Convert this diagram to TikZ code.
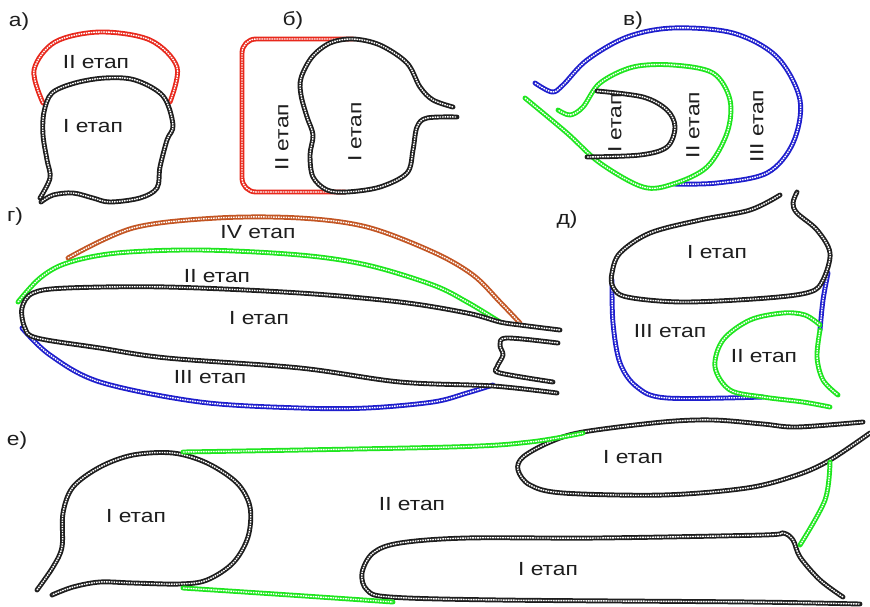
\documentclass[tikz,border=0pt]{standalone}
\usepackage{fontspec}
\setmainfont{Liberation Sans}
\definecolor{cblack}{RGB}{30,30,30}
\definecolor{cred}{RGB}{232,40,28}
\definecolor{cgreen}{RGB}{30,230,30}
\definecolor{cblue}{RGB}{30,30,205}
\definecolor{corange}{RGB}{195,85,35}
\newcommand\lbl[1]{\scalebox{1.2}[1]{#1}}
\tikzset{
  bd/.style={draw=#1, line width=4.9pt, line cap=round, line join=round,
    postaction={draw=white, line width=1.4pt, line cap=butt, dash pattern=on 1.6pt off 0.9pt}},
  txt/.style={font=\fontsize{19}{21}\selectfont, text=cblack, inner sep=0pt},
  sm/.style={smooth, tension=0.55}
}
\begin{document}
\begin{tikzpicture}[x=1pt,y=-1pt]
\useasboundingbox[fill=white] (0,0) rectangle (870,606);

% ---------- а)
\node[txt] (la) at (19,22) {\lbl{а)}};
\draw[bd=cred] plot[sm] coordinates {(43,103) (34,70) (55,42) (100,32) (150,40) (177,67) (170,102)};
\draw[bd=cblack] plot[sm] coordinates {(40,198) (50,178) (47,160) (43,135) (44,112) (52,93) (75,83) (105,78) (135,80) (163,96) (173,125) (167,140) (160,167) (157,188) (140,198) (110,202) (93,198) (73,193) (53,195) (41,202)};
\node[txt] (a2) at (96,62) {\lbl{II етап}};
\node[txt] (a1) at (93,126) {\lbl{I етап}};

% ---------- б)
\node[txt] (lb) at (293,20) {\lbl{б)}};
\draw[bd=cred, rounded corners=14pt] (353,39) -- (242,39) -- (242,192) -- (345,192);
\draw[bd=cblack] plot[sm] coordinates {(453,107) (433,100) (420,87) (407,63) (380,45) (353,39) (330,43) (312,57) (301,78) (301,95) (307,117) (313,135) (310,155) (313,177) (327,190) (347,192) (380,187) (407,173) (413,150) (417,127) (427,118) (457,117)};
\node[txt, rotate=90] (b2) at (282,137) {\lbl{II етап}};
\node[txt, rotate=90] (b1) at (355,132) {\lbl{I етап}};

% ---------- в)
\node[txt] (lv) at (633,21) {\lbl{в)}};
\draw[bd=cblue] plot[sm] coordinates {(535,83) (552,92) (563,85) (587,60) (627,37) (673,28) (733,33) (777,57) (800,100) (793,143) (767,173) (717,183) (673,184)};
\draw[bd=cgreen] plot[sm] coordinates {(525,98) (567,133) (600,163) (643,187) (673,184) (707,167) (727,133) (730,100) (713,73) (673,65) (633,67) (600,83) (583,107) (570,115) (558,110)};
\draw[bd=cblack] plot[sm] coordinates {(597,91) (643,97) (667,110) (675,127) (667,147) (640,155) (587,157)};
\node[txt, rotate=90] (v1) at (615,123) {\lbl{I етап}};
\node[txt, rotate=90] (v2) at (693,125) {\lbl{II етап}};
\node[txt, rotate=90] (v3) at (757,126) {\lbl{III етап}};

% ---------- г)
\node[txt] (lg) at (15,217) {\lbl{г)}};
\draw[bd=corange] plot[sm] coordinates {(68,258) (133,228) (217,218) (300,218) (367,227) (433,252) (473,275) (500,302) (520,323)};
\draw[bd=cgreen] plot[sm] coordinates {(18,302) (40,278) (67,263) (117,253) (200,250) (300,255) (367,265) (433,285) (467,302) (500,322)};
\draw[bd=cblue] plot[sm] coordinates {(22,328) (50,355) (100,382) (200,402) (300,408) (367,408) (433,402) (467,393) (493,385)};
\draw[bd=cblack] plot[sm] coordinates {(560,330) (520,325) (500,322) (467,313) (400,302) (300,293) (167,287) (67,288) (33,293) (22,308) (25,328) (37,338) (100,348) (167,358) (300,368) (400,382) (493,386) (557,393)};
\draw[bd=cblack] plot[sm] coordinates {(558,343) (507,338) (500,345) (503,355) (497,367) (500,373) (553,382)};
\node[txt] (g4) at (258,232) {\lbl{IV етап}};
\node[txt] (g2) at (217,276) {\lbl{II етап}};
\node[txt] (g1) at (259,318) {\lbl{I етап}};
\node[txt] (g3) at (210,377) {\lbl{III етап}};

% ---------- д)
\node[txt] (ld) at (567,220) {\lbl{д)}};
\draw[bd=cblue] plot[sm] coordinates {(612,280) (613,323) (620,363) (637,387) (667,398) (763,397)};
\draw[bd=cblue] plot[sm] coordinates {(828,273) (823,300) (820,330)};
\draw[bd=cgreen] plot[sm] coordinates {(820,325) (805,315) (783,313) (750,320) (723,340) (715,367) (730,390) (763,397) (803,402) (830,407)};
\draw[bd=cgreen] plot[sm] coordinates {(820,330) (817,357) (823,380) (838,395)};
\draw[bd=cblack] plot[sm] coordinates {(780,195) (750,210) (700,220) (650,233) (620,253) (612,273) (613,287) (627,297) (683,302) (767,298) (810,292) (823,280) (830,253) (817,230) (797,213) (793,203) (797,192)};
\node[txt] (d1) at (717,252) {\lbl{I етап}};
\node[txt] (d3) at (670,331) {\lbl{III етап}};
\node[txt] (d2) at (764,356) {\lbl{II етап}};

% ---------- е)
\node[txt] (le) at (17,441) {\lbl{е)}};
\draw[bd=cblack] plot[sm] coordinates {(37,590) (53,567) (62,547) (63,513) (73,487) (100,467) (133,455) (173,453) (207,463) (237,483) (250,507) (248,537) (233,563) (207,580) (180,584) (133,583) (100,582) (73,587) (52,595)};
\draw[bd=cblack] plot[sm] coordinates {(863,422) (797,427) (763,424) (713,420) (663,422) (583,432) (550,442) (523,457) (518,470) (530,485) (563,493) (663,495) (747,488) (797,475) (830,460) (870,433)};
\draw[bd=cblack] plot[sm] coordinates {(843,597) (820,580) (800,557) (793,540) (783,533) (763,535) (597,538) (467,538) (400,543) (373,553) (362,573) (367,590) (390,597) (500,600) (750,602) (860,604)};
\draw[bd=cgreen] plot[sm] coordinates {(183,452) (450,447) (530,442) (583,433)};
\draw[bd=cgreen] plot[sm] coordinates {(183,588) (290,595) (393,602)};
\draw[bd=cgreen] plot[sm] coordinates {(830,462) (825,500) (800,545)};
\node[txt] (e1) at (136,516) {\lbl{I етап}};
\node[txt] (e2) at (412,504) {\lbl{II етап}};
\node[txt] (e3) at (633,457) {\lbl{I етап}};
\node[txt] (e4) at (548,569) {\lbl{I етап}};
\end{tikzpicture}
\end{document}
